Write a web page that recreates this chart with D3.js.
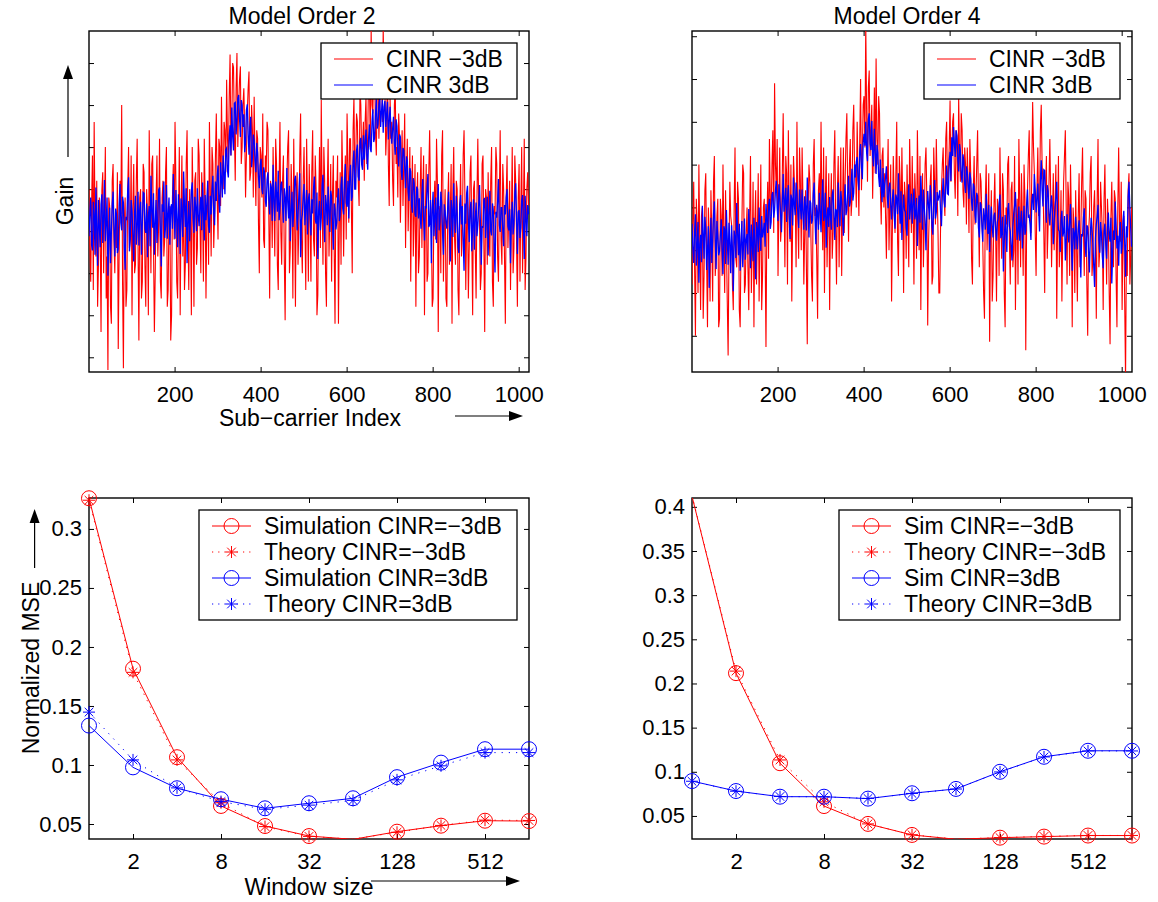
<!DOCTYPE html>
<html>
<head>
<meta charset="utf-8">
<title>Channel gain and normalized MSE vs. window size</title>
<script src="https://cdn.jsdelivr.net/npm/d3@7/dist/d3.min.js"></script>
<style>
  html, body { margin: 0; padding: 0; background: #fff; }
  svg { display: block; }
</style>
</head>
<body>
<script>
// ---------------- data ----------------
// Estimated channel gain (dB) on every 2nd sub-carrier (1, 3, ..., 1023)
const subcarriers = d3.range(1, 1025, 2);

const gainOrder2Low = [
  5,-2, -6,3, 9,-7, 13,1, -3,6, -9,-4, 4,0, -12,5, 7,-5, 2,10, -8,-3, -16.5,4, 3,-9, -11,6, 8,-1, -5,2,
  -2,7, -14,-3, 6,2, 15,-6, -16.3,1, 4,-9, -7,5, 10,-2, -1,9, -10,3, 8,-5, -4,6, 11,-2, -13,4, 5,-8, -6,8,
  7,-4, -9,5, 2,-10, 12,3, -5,8, 9,-2, -12,-5, 4,9, -3,1, 11,-6, -8,4, 6,-3, -1,7, 10,-9, -7,2, 3,-13,
  -10,4, 8,-1, 13,6, -6,-8, 1,10, -10,2, 9,-3, 5,-7, -4,8, 12,0, -7,5, 2,-10, 10,3, -9,6, 7,-4, -2,11,
  9,1, -5,7, 3,-6, 11,4, -8,2, 6,-4, 13,5, -3,10, 8,-2, 2,9, 14,4, -1,11, 10,3, 16,8, 5,13, 12,7,
  18,11, 8,16, 21,9, 13,20, 19.5,12, 6,17, 21.2,10, 15,18, 19.6,8, 10,15, 17,12, 4,9, 14,17, 19,6, 7,15, 12,4,
  16,8, 3,12, 11,1, -5,10, 9,4, 14,-1, -2,9, 7,13, 12,2, -8,6, 5,-2, 10,3, -3,11, 8,-4, -7,6, 13,0,
  -4,6, 9,-3, -10.6,3, 6,10, 12,-5, -2,8, 4,-8, 11,2, -9,5, 7,-4, 1,9, 14,-1, -5,6, 10,1, -7,11, 3,-6,
  8,2, -6,7, 12,-1, -3,9, 5,-10, -7.6,3, 10,-2, 15.6,4, -4,10, 6,-5, -9,5, 11,-3, 2,8, -6,4, 9,-2, -11,6,
  4,9, -11,1, 7,-4, 12,6, -3,5, 9,-1, 14,8, 1,11, 11,3, -5,12, 16,5, 8,14, 13,6, 3,17, 15,9, 10,13,
  6,13, 16,8, 11,19, 18,10, 24,15, 14,21, 20,12, 9,17, 19,11, 15,22, 21,13, 24,18, 17,9, 12,20, 8,3, 16,11,
  13,6, 3,15, 17,8, 10,4, 14,11, 1,7, 12,3, 8,14, -2,6, 11,0, 5,10, -6,4, 9,-3, 2,8, -9,3, 7,-5,
  -3,5, 10,-2, 4,9, -10,2, 8,-6, -5,7, 12,4, 1,-9, -8,3, 6,-1, 11,6, -12,2, 3,-5, 9,12, -6,1, 5,-8,
  -9,3, 7,-4, 2,8, -11,5, 10,-1, -4,6, 5,-7, -10,2, 8,-3, 0,9, 12,4, -7,1, 4,-8, -2,7, 9,-1, -10,5,
  6,-2, -8,4, 11,3, 1,-7, -5,8, 9,-1, -12,5, 4,-4, 7,0, -3,6, 10,-6, -9,3, 2,10, 8,-3, -6,4, 12,-1,
  -4,8, 5,-3, -11,4, 9,-2, 2,6, -7,1, 10,-5, -2,9, 6,-1, -9,4, 8,-6, 3,10, -5,2, 11,-7, -3,5, 7,3
];
const gainOrder2High = [
  -0.6,2.3, 4.0,-1.6, -2.3,3.5, 2.0,-2.8, 5.2,0.4, -4.1,3.7, 0.6,-1.9, 3.2,4.4, -1.4,1.6, 6.1,-1.2, 1.0,4.0, -5.3,-0.4, 2.8,-3.8, -0.1,3.2, 4.7,0.1, -3.0,2.7,
  2.0,-2.6, -2.1,3.0, 5.6,1.0, 0.1,4.1, 3.4,-1.9, -4.6,1.7, 1.3,4.9, 6.4,-2.4, -0.9,3.7, 2.4,-0.4, -3.6,2.2, 4.2,-1.6, 0.5,4.7, -1.7,2.5, 3.5,-2.8, 1.0,4.6,
  4.5,0.3, -0.2,3.3, -3.1,1.8, 3.0,-1.8, 6.6,2.5, 0.4,4.5, -2.8,0.9, 3.7,-1.4, 1.5,4.9, 5.2,-0.4, -4.2,3.2, 2.3,5.9, -0.8,0.6, 5.5,-0.9, 2.0,4.0, -1.6,2.8,
  3.2,0.3, 6.8,2.4, -0.9,4.9, 1.4,-1.9, 4.4,1.7, -2.7,3.9, 2.4,-0.7, 7.1,2.9, 0.5,5.1, -3.8,1.0, 3.6,-1.2, 1.9,4.8, 5.8,1.5, -0.2,4.1, 2.9,0.0, 5.1,1.9,
  0.6,3.0, 4.1,0.1, 5.8,2.4, -1.1,4.3, 1.3,3.2, 6.0,0.6, -0.2,4.2, 2.0,5.0, 6.6,2.2, 0.7,5.9, 3.6,6.5, 7.8,3.4, 2.2,8.2, 6.2,4.0, 9.0,6.9, 4.4,9.7,
  9.9,7.2, 6.4,11.3, 12.6,9.0, 14.7,11.3, 9.6,15.2, 15.3,11.5, 13.2,15.8, 16.2,13.4, 11.2,15.6, 15.0,12.4, 13.9,9.4, 10.6,14.4, 15.1,11.7, 9.1,12.3, 13.6,7.6, 8.8,11.5,
  10.8,8.4, 7.0,10.5, 9.3,6.5, 5.1,7.8, 8.6,5.0, 4.4,7.6, 7.0,3.6, 2.9,6.1, 7.0,3.8, 2.0,5.7, 5.2,1.2, 7.9,3.7, 1.2,5.9, 4.5,2.3, 7.2,1.3, 2.8,5.5,
  5.9,3.0, 1.0,5.1, 3.9,1.2, 7.5,3.5, 1.5,5.4, -1.2,2.4, 4.7,0.5, 2.5,6.1, 6.6,3.4, 0.1,1.8, 4.4,6.9, -3.1,1.3, 2.0,4.2, 5.6,0.7, 2.9,4.9, -0.4,3.7,
  4.5,1.8, -0.5,3.8, 2.1,5.0, 6.5,1.4, 0.9,4.6, -3.3,2.4, 3.6,0.1, 1.6,5.5, 6.7,1.9, -1.3,4.3, 3.1,0.7, 5.3,2.3, -0.1,4.8, 4.1,1.2, -2.2,3.3, 2.6,0.2,
  1.0,3.9, 5.1,1.2, 1.9,5.5, 6.5,2.7, 2.0,5.9, 8.0,3.4, 2.9,6.0, 1.5,6.4, 7.9,3.6, 4.1,8.2, 9.6,5.0, 5.0,9.6, 10.3,6.5, 6.0,10.6, 11.1,7.9, 7.3,11.4,
  8.5,10.4, 12.1,9.0, 7.3,11.0, 12.7,9.8, 9.4,13.0, 14.5,10.6, 11.1,13.8, 15.7,12.2, 12.7,15.1, 15.9,12.4, 14.2,15.6, 11.7,14.8, 15.5,12.4, 13.9,15.4, 10.9,13.1, 14.8,11.7,
  10.4,12.2, 13.6,10.5, 9.1,13.3, 12.5,9.2, 7.7,11.5, 11.2,7.1, 6.1,9.9, 9.6,7.6, 5.1,8.9, 8.4,4.7, 3.6,7.5, 7.1,3.0, 2.2,6.3, 5.7,2.0, 1.7,5.3, 5.0,1.5,
  3.9,1.7, 0.3,4.4, 6.2,1.5, -1.1,3.0, 2.7,5.2, 6.8,0.5, 0.8,3.7, -3.8,2.5, 4.7,-0.6, 1.8,4.0, -1.4,2.7, 5.6,0.1, 1.1,4.7, 3.4,-0.2, -2.8,3.2, 2.3,1.0,
  0.3,2.8, 4.7,0.4, -3.6,3.7, 2.5,-0.7, 5.7,1.6, -0.2,4.2, 2.0,-1.9, -2.6,3.2, 4.3,0.8, 3.0,-1.1, -4.7,3.3, 0.9,4.5, 5.4,1.3, -1.3,2.5, 3.5,-2.4, 0.6,3.8,
  -2.2,1.2, 3.4,-0.6, 0.7,3.1, 5.5,0.9, -4.0,0.6, 0.4,3.8, 3.9,-0.8, 1.7,4.1, -2.9,1.9, 4.8,0.0, -0.5,3.3, 2.4,-1.8, -4.9,2.3, 1.6,3.6, 6.2,0.7, -0.1,2.8,
  2.8,0.2, -1.8,3.1, 2.0,4.0, 5.0,0.6, 0.1,2.6, -3.8,1.3, 3.5,-0.4, 0.9,4.5, 5.7,1.6, -2.7,2.3, 2.5,-0.8, 0.4,3.6, 4.3,0.8, -3.3,4.2, 1.3,-0.6, 3.1,2.0
];
const gainOrder4Low = [
  -4,3, 8,-2, -10,6, 3,-5, 10,1, -7,4, 5,-8, -3,7, 9,-1, -9,5, 2,-6, 7,2, -6,8, 11,-3, -1,4, 6,-9,
  -8,6, 4,-3, 10,2, -5,7, 1,-6, -12.3,0, 8,4, 3,-4, -7,5, 12,-1, -2,8, 6,-7, -9,1, 3,10, 9,-5, -4,2,
  5,-2, -7,4, 11,-5, 0,8, -9,3, 7,-4, 2,9, -6,1, 10,-7, -3,5, 6,0, -11.3,3, 8,-1, 13,6, 4,10, 14,2,
  19.5,10, 7,13, -3,5, 12,1, 3,9, 16,6, -2,11, 9,-4, 14,5, 1,10, -6,3, 11,8, 6,-2, 15,4, -1,12, 8,0,
  12,6, -4,2, 7,-2, -11,5, 10,8, 3,-3, -6,10, 13,4, 5,-1, -8,7, 9,3, 15,5, 0,12, -5,6, 11,-2, 4,9,
  -7,4, 9,-1, 2,10, 14,3, -4,7, 11,-2, 6,12, -3,5, 12,2, 8,13, 16,7, 1,10, 13,4, 6,14, 17,9, 10,5,
  15,9, 4,13, 20,7, 11,17, 18,12, 26.5,16, 8,19, 21,11, 14,17, 6,12, 19,9, 22.4,13, 10,18, 16,7, 3,11, 12,5,
  9,4, -1,7, 13,0, 5,10, -6,3, 11,6, 2,9, 15,1, -3,11, 8,2, 12,5, -5,8, 6,-1, 10,4, -2,13, 7,2,
  11,5, -4,9, 6,-1, 14,7, 0,11, -7,4, 9,-2, 3,10, 12,6, -8.8,1, 5,8, 10,-4, -3,12, 8,3, 13,7, 2,-5,
  -5,3, 7,10, 12,6, 4,13, 15,7, 9,12, 17.5,8, 11,15, 16,9, 6,14, 13,4, 18,11, 8,16, 14,7, 5,12, 10,3,
  12,8, 2,13, 9,-1, -4,7, 11,3, 6,10, 14,5, -2,9, 8,4, 1,-5, -8,6, 10,0, 4,9, -10.7,2, 7,-6, -3,5,
  9,2, -6,6, 5,-3, 12,4, -1,9, 7,-5, -9,5, 3,10, 11,1, -4,7, 8,-2, 0,11, -7,3, 6,-4, 13,6, -2,9,
  4,-3, 10,6, -11.7,3, 7,11, 14,5, 2,9, 17.3,12, 9,2, -3,7, 12,4, 5,14, 17,10, 8,2, -5,7, 11,-1, 3,8,
  13,6, -2,4, 9,0, 5,10, -8,3, 11,-2, 1,7, -6,2, 8,11, 14,5, -4,8, 6,-3, 10,4, -9,5, 3,-5, 7,1,
  -6,4, 9,-2, 2,8, 12,3, -3,7, 6,-4, -10,2, 4,9, 11,-3, -1,5, 7,1, -8,6, 13,-2, 0,8, 5,2, -7,6,
  10,2, -4,6, 3,-5, -11,4, 8,1, -2,7, 6,-3, -9,5, 12,3, 1,8, -7,2, 4,-6, -15,0, -3,7, 9,-4, -1,5
];
const gainOrder4High = [
  3.1,0.2, -1.5,2.2, 4.2,-1.8, 0.6,3.3, -3.8,0.7, 1.8,-1.4, 5.2,2.0, -1.0,3.9, 2.5,-2.3, -0.1,2.8, -4.4,0.4, 3.8,-1.5, 1.0,4.1, 5.7,1.4, -2.2,3.4, 1.7,-0.6,
  -0.1,1.8, 3.6,0.0, -2.8,2.8, 2.4,-1.6, 4.7,1.3, -1.7,3.2, 0.8,-2.7, 2.9,0.2, -4.8,2.3, 1.6,-0.9, 5.5,2.0, -0.6,3.1, -2.4,0.7, 3.4,-2.0, 1.0,3.7, -1.1,1.2,
  1.9,-0.5, 4.8,2.2, -2.1,3.0, 0.6,-1.3, 3.8,0.9, -3.4,3.3, 2.5,-0.2, 5.0,1.6, -0.1,4.0, 1.5,2.2, 3.2,0.4, 5.4,3.6, 2.0,5.2, 6.0,2.5, 3.3,6.5, 6.8,3.8,
  4.7,7.0, 8.1,5.0, 3.4,7.7, 6.3,4.2, 2.1,5.7, 8.9,4.5, 5.5,7.3, 3.3,6.1, 7.6,3.7, 1.3,6.5, 6.0,2.9, 8.5,5.3, 4.1,7.9, 6.6,4.4, 2.6,7.1, 5.2,3.6,
  7.1,4.3, 2.4,6.3, 5.1,2.3, 8.5,4.8, 1.5,5.8, 5.5,3.1, 3.5,6.6, 7.9,3.7, 0.7,5.3, 4.3,2.4, 6.7,4.7, 2.1,6.1, 8.3,3.4, 4.0,6.7, 0.3,3.9, 5.0,2.7,
  6.2,4.0, 2.4,6.4, 7.1,4.2, 1.2,4.8, 4.6,2.7, 7.9,5.1, 2.8,6.9, 5.7,3.7, 1.7,5.7, 7.7,4.1, 4.7,6.7, 8.7,5.1, 5.6,7.9, 9.5,5.8, 6.7,10.0, 8.5,10.3,
  10.9,8.2, 7.0,11.5, 12.4,9.7, 8.3,12.6, 13.6,12.2, 15.0,11.4, 10.4,15.3, 16.0,12.4, 11.7,15.1, 11.0,9.8, 14.2,11.5, 8.9,12.3, 11.4,8.6, 7.4,10.6, 7.1,5.6, 9.6,6.2,
  7.6,8.5, 9.8,6.3, 4.9,7.3, 7.9,5.3, 3.6,6.0, 7.1,4.1, 2.5,6.5, 6.0,4.2, 9.0,5.2, 3.1,6.9, 1.2,4.5, 6.5,4.7, 4.5,2.6, 1.7,5.7, 7.7,3.6, 5.0,6.6,
  3.1,5.3, 7.2,3.6, 4.2,6.1, 0.5,4.4, 6.4,3.2, 8.7,5.8, 2.4,7.1, 5.0,3.4, 0.0,4.7, 6.9,5.2, 3.6,7.6, 6.1,2.8, 1.8,5.6, 8.2,3.7, 4.4,6.8, 5.8,6.3,
  7.0,4.4, 2.8,6.3, 8.4,5.8, 5.0,7.6, 9.9,6.6, 6.5,10.3, 11.5,8.1, 13.2,11.0, 14.4,12.5, 10.9,14.0, 13.4,10.6, 9.2,12.4, 11.6,8.7, 7.9,11.2, 10.4,7.7, 6.7,9.8,
  9.2,7.5, 6.0,9.1, 8.3,5.6, 4.6,7.8, 7.4,4.1, 3.2,6.7, 6.3,2.7, 1.5,5.6, 5.3,2.8, 1.0,4.9, 3.9,2.4, 6.6,3.8, 1.9,5.3, -0.2,3.4, 5.1,2.7, 1.5,4.0,
  4.4,2.5, 1.1,3.3, 3.8,5.4, 6.5,1.4, 1.9,3.9, -2.5,0.9, 4.1,2.0, -0.2,4.7, 5.5,2.8, 2.2,0.4, -1.2,2.7, 4.3,5.2, 6.8,3.5, 1.2,2.2, 5.1,1.1, 3.1,4.6,
  0.2,2.7, 5.2,1.8, 2.3,5.4, 7.1,3.8, 4.0,3.0, 1.2,5.7, 6.6,4.7, 8.9,7.0, 4.4,5.9, 7.8,4.8, 2.2,8.2, 10.5,7.0, 5.1,9.4, 9.3,5.9, 3.2,7.6, 6.9,4.2,
  2.9,5.2, 6.4,4.2, 0.7,3.3, 5.1,6.1, 8.0,4.2, 2.4,2.2, -0.2,3.4, 4.6,1.6, 2.1,4.0, -1.2,1.1, 4.2,2.5, 0.9,3.4, 5.4,0.8, -2.4,2.6, 2.0,0.1, 3.9,1.7,
  0.1,2.4, 3.5,0.5, -3.2,1.9, 1.6,3.7, 4.9,0.6, -0.8,2.9, 2.7,-0.2, -2.6,1.7, 3.8,2.5, 0.8,-1.8, -4.3,1.4, 3.0,4.0, 5.3,1.1, -0.3,3.3, 1.9,-0.7, -2.1,2.2,
  3.1,0.7, -1.0,2.6, 4.4,1.8, 1.0,3.8, -3.9,-0.2, 2.3,1.2, 5.7,3.0, 0.2,1.7, -1.8,2.2, 3.3,-0.4, 0.4,3.4, 4.6,0.9, -3.1,2.8, 1.5,6.2, 8.0,5.0, 2.5,0.4
];
const subcarrierTicks = [200, 400, 600, 800, 1000];
const gainTicksOrder2 = [-15, -10, -5, 0, 5, 10, 15, 20];
const gainTicksOrder4 = [-10, -5, 0, 5, 10, 15, 20, 25];
const gainLimitsOrder2 = [-16.75, 23.81];
const gainLimitsOrder4 = [-14.23, 25.61];

// Normalized MSE vs. averaging window size
const windowSizes = [1, 2, 4, 8, 16, 32, 64, 128, 256, 512, 1024];
const windowTicks = [2, 8, 32, 128, 512];

const mseOrder2SimLow    = [0.3260, 0.1816, 0.1066, 0.0653, 0.0483, 0.0398, 0.0370, 0.0435, 0.0486, 0.0528, 0.0525];
const mseOrder2TheoryLow = [0.3243, 0.1785, 0.1043, 0.0680, 0.0478, 0.0395, 0.0372, 0.0430, 0.0488, 0.0533, 0.0530];
const mseOrder2SimHigh   = [0.1334, 0.0980, 0.0803, 0.0710, 0.0633, 0.0676, 0.0718, 0.0897, 0.1020, 0.1134, 0.1134];
const mseOrder2TheoryHigh= [0.1448, 0.1043, 0.0806, 0.0690, 0.0625, 0.0660, 0.0700, 0.0874, 0.0993, 0.1105, 0.1105];

const mseOrder4SimLow    = [0.4120, 0.2117, 0.1097, 0.0612, 0.0410, 0.0285, 0.0236, 0.0254, 0.0266, 0.0278, 0.0278];
const mseOrder4TheoryLow = [0.4130, 0.2140, 0.1134, 0.0660, 0.0410, 0.0287, 0.0238, 0.0255, 0.0268, 0.0279, 0.0279];
const mseOrder4SimHigh   = [0.0895, 0.0782, 0.0718, 0.0718, 0.0696, 0.0757, 0.0806, 0.1000, 0.1170, 0.1238, 0.1238];
const mseOrder4TheoryHigh= [0.0893, 0.0780, 0.0720, 0.0716, 0.0698, 0.0755, 0.0805, 0.0998, 0.1168, 0.1236, 0.1236];

const mseTicksOrder2 = [0.05, 0.1, 0.15, 0.2, 0.25, 0.3];
const mseTicksOrder4 = [0.05, 0.1, 0.15, 0.2, 0.25, 0.3, 0.35, 0.4];
const mseLimitsOrder2 = [0.0373, 0.3262];
const mseLimitsOrder4 = [0.0239, 0.41];

// ---------------- drawing ----------------
const FONT = '"Liberation Sans", Arial, Helvetica, sans-serif';
const RED = "#ff0000", BLUE = "#0000ff";
const TICK_FONT = 22, LABEL_FONT = 23;

const svg = d3.select("body").append("svg").attr("width", 1158).attr("height", 902);
const defs = svg.append("defs");
let clipId = 0;

const boxes = {
  tl: { x0: 89,  x1: 529,  y0: 31,  y1: 372 },
  tr: { x0: 692, x1: 1132, y0: 31,  y1: 372 },
  bl: { x0: 89,  x1: 529,  y0: 498, y1: 839 },
  br: { x0: 692, x1: 1132, y0: 498, y1: 839 }
};

function panel(box, x, y, xTicks, yTicks, yFmt) {
  const g = svg.append("g");
  const id = "clip" + (clipId++);
  defs.append("clipPath").attr("id", id).append("rect")
    .attr("x", box.x0).attr("y", box.y0)
    .attr("width", box.x1 - box.x0).attr("height", box.y1 - box.y0);

  const styleAxis = a => {
    a.select(".domain").remove();
    a.attr("font-family", FONT).attr("font-size", TICK_FONT);
    a.selectAll("line").attr("stroke", "#000").attr("stroke-width", 1);
    a.selectAll("text").attr("fill", "#000");
  };
  g.append("g").attr("transform", `translate(0,${box.y1})`)
    .call(d3.axisBottom(x).tickValues(xTicks).tickSize(-5).tickPadding(14).tickFormat(d3.format("d")))
    .call(styleAxis);
  g.append("g").attr("transform", `translate(0,${box.y0})`)
    .call(d3.axisTop(x).tickValues(xTicks).tickSize(-5).tickFormat(""))
    .call(styleAxis);
  g.append("g").attr("transform", `translate(${box.x0},0)`)
    .call(d3.axisLeft(y).tickValues(yTicks).tickSize(-5).tickPadding(7).tickFormat(yFmt))
    .call(styleAxis);
  g.append("g").attr("transform", `translate(${box.x1},0)`)
    .call(d3.axisRight(y).tickValues(yTicks).tickSize(-5).tickFormat(""))
    .call(styleAxis);
  g.append("rect")
    .attr("x", box.x0).attr("y", box.y0)
    .attr("width", box.x1 - box.x0).attr("height", box.y1 - box.y0)
    .attr("fill", "none").attr("stroke", "#000").attr("stroke-width", 1.4);

  const plot = g.append("g").attr("clip-path", `url(#${id})`);
  const marks = g.append("g");
  return { g, plot, marks };
}

function starPath(cx, cy) {
  const a = 6, b = 4.3;
  return `M${cx - a},${cy}H${cx + a}M${cx},${cy - a}V${cy + a}` +
         `M${cx - b},${cy - b}L${cx + b},${cy + b}M${cx - b},${cy + b}L${cx + b},${cy - b}`;
}

function legend(x, y, w, h, entries) {
  const g = svg.append("g");
  g.append("rect").attr("x", x).attr("y", y).attr("width", w).attr("height", h)
    .attr("fill", "#fff").attr("stroke", "#000").attr("stroke-width", 1.3);
  entries.forEach((e, i) => {
    const ry = y + 16 + 26 * i;
    g.append("line").attr("x1", x + 13).attr("x2", x + 52).attr("y1", ry).attr("y2", ry)
      .attr("stroke", e.color).attr("stroke-width", 1.1)
      .attr("stroke-dasharray", e.dotted ? "1.2 5" : null);
    if (e.marker === "o") {
      g.append("circle").attr("cx", x + 32.5).attr("cy", ry).attr("r", 7.5)
        .attr("fill", "none").attr("stroke", e.color).attr("stroke-width", 1);
    } else if (e.marker === "*") {
      g.append("path").attr("d", starPath(x + 32.5, ry))
        .attr("fill", "none").attr("stroke", e.color).attr("stroke-width", 1);
    }
    g.append("text").attr("x", x + 65).attr("y", ry + 8)
      .attr("font-family", FONT).attr("font-size", LABEL_FONT).attr("fill", "#000")
      .text(e.label);
  });
}

function arrow(x1, y1, x2, y2) {
  const len = Math.hypot(x2 - x1, y2 - y1);
  const ux = (x2 - x1) / len, uy = (y2 - y1) / len;
  const hl = 14, hw = 5;
  const bx = x2 - ux * hl, by = y2 - uy * hl;
  svg.append("line").attr("x1", x1).attr("y1", y1).attr("x2", bx).attr("y2", by)
    .attr("stroke", "#000").attr("stroke-width", 1.2);
  svg.append("path")
    .attr("d", `M${x2},${y2}L${bx - uy * hw},${by + ux * hw}L${bx + uy * hw},${by - ux * hw}Z`)
    .attr("fill", "#000");
}

function label(text, x, y, rotate) {
  svg.append("text")
    .attr("transform", `translate(${x},${y})${rotate ? " rotate(-90)" : ""}`)
    .attr("text-anchor", "middle")
    .attr("font-family", FONT).attr("font-size", LABEL_FONT).attr("fill", "#000")
    .text(text);
}

// ---- gain panels ----
function gainPanel(box, limits, ticks, low, high, title, titleX) {
  const x = d3.scaleLinear().domain([1, 1024]).range([box.x0, box.x1]);
  const y = d3.scaleLinear().domain(limits).range([box.y1, box.y0]);
  const p = panel(box, x, y, subcarrierTicks, ticks, "");
  const line = d3.line().x((d, i) => x(subcarriers[i])).y(d => y(d));
  p.plot.append("path").datum(low).attr("d", line)
    .attr("fill", "none").attr("stroke", RED).attr("stroke-width", 1.1);
  p.plot.append("path").datum(high).attr("d", line)
    .attr("fill", "none").attr("stroke", BLUE).attr("stroke-width", 1.3);
  label(title, titleX, box.y0 - 7, false);
}

gainPanel(boxes.tl, gainLimitsOrder2, gainTicksOrder2, gainOrder2Low, gainOrder2High, "Model Order 2", 302);
gainPanel(boxes.tr, gainLimitsOrder4, gainTicksOrder4, gainOrder4Low, gainOrder4High, "Model Order 4", 907);

legend(321, 43, 196, 56, [
  { label: "CINR \u22123dB", color: RED },
  { label: "CINR 3dB", color: BLUE }
]);
legend(924, 43, 196, 56, [
  { label: "CINR \u22123dB", color: RED },
  { label: "CINR 3dB", color: BLUE }
]);

label("Gain", 73, 201, true);
arrow(68, 157, 68, 65);
label("Sub\u2212carrier Index", 310, 426, false);
arrow(455, 416, 523, 416);

// ---- MSE panels ----
function msePanel(box, limits, ticks, series) {
  const x = d3.scaleLog().base(2).domain([1, 1024]).range([box.x0, box.x1]);
  const y = d3.scaleLinear().domain(limits).range([box.y1, box.y0]);
  const fmt = d => String(+d.toFixed(2));
  const p = panel(box, x, y, windowTicks, ticks, fmt);
  const line = d3.line().x((d, i) => x(windowSizes[i])).y(d => y(d));
  const inside = v => v >= limits[0] - 1e-9 && v <= limits[1] + 1e-9;
  series.forEach(s => {
    p.plot.append("path").datum(s.values).attr("d", line)
      .attr("fill", "none").attr("stroke", s.color).attr("stroke-width", 1)
      .attr("stroke-dasharray", s.dotted ? "1.2 6" : null);
    const pts = s.values.map((v, i) => ({ x: x(windowSizes[i]), y: y(v), v })).filter(d => inside(d.v));
    if (s.marker === "o") {
      p.marks.selectAll(null).data(pts).join("circle")
        .attr("cx", d => d.x).attr("cy", d => d.y).attr("r", 7.5)
        .attr("fill", "none").attr("stroke", s.color).attr("stroke-width", 1);
    } else {
      p.marks.selectAll(null).data(pts).join("path")
        .attr("d", d => starPath(d.x, d.y))
        .attr("fill", "none").attr("stroke", s.color).attr("stroke-width", 1);
    }
  });
}

msePanel(boxes.bl, mseLimitsOrder2, mseTicksOrder2, [
  { values: mseOrder2SimLow, color: RED, marker: "o" },
  { values: mseOrder2TheoryLow, color: RED, marker: "*", dotted: true },
  { values: mseOrder2SimHigh, color: BLUE, marker: "o" },
  { values: mseOrder2TheoryHigh, color: BLUE, marker: "*", dotted: true }
]);
msePanel(boxes.br, mseLimitsOrder4, mseTicksOrder4, [
  { values: mseOrder4SimLow, color: RED, marker: "o" },
  { values: mseOrder4TheoryLow, color: RED, marker: "*", dotted: true },
  { values: mseOrder4SimHigh, color: BLUE, marker: "o" },
  { values: mseOrder4TheoryHigh, color: BLUE, marker: "*", dotted: true }
]);

legend(199, 510, 318, 110, [
  { label: "Simulation CINR=\u22123dB", color: RED, marker: "o" },
  { label: "Theory CINR=\u22123dB", color: RED, marker: "*", dotted: true },
  { label: "Simulation CINR=3dB", color: BLUE, marker: "o" },
  { label: "Theory CINR=3dB", color: BLUE, marker: "*", dotted: true }
]);
legend(839, 510, 281, 110, [
  { label: "Sim CINR=\u22123dB", color: RED, marker: "o" },
  { label: "Theory CINR=\u22123dB", color: RED, marker: "*", dotted: true },
  { label: "Sim CINR=3dB", color: BLUE, marker: "o" },
  { label: "Theory CINR=3dB", color: BLUE, marker: "*", dotted: true }
]);

label("Normalized MSE", 39, 668, true);
arrow(34.6, 568, 34.6, 509);
label("Window size", 309, 895, false);
arrow(371, 881, 520, 881);
</script>
</body>
</html>
